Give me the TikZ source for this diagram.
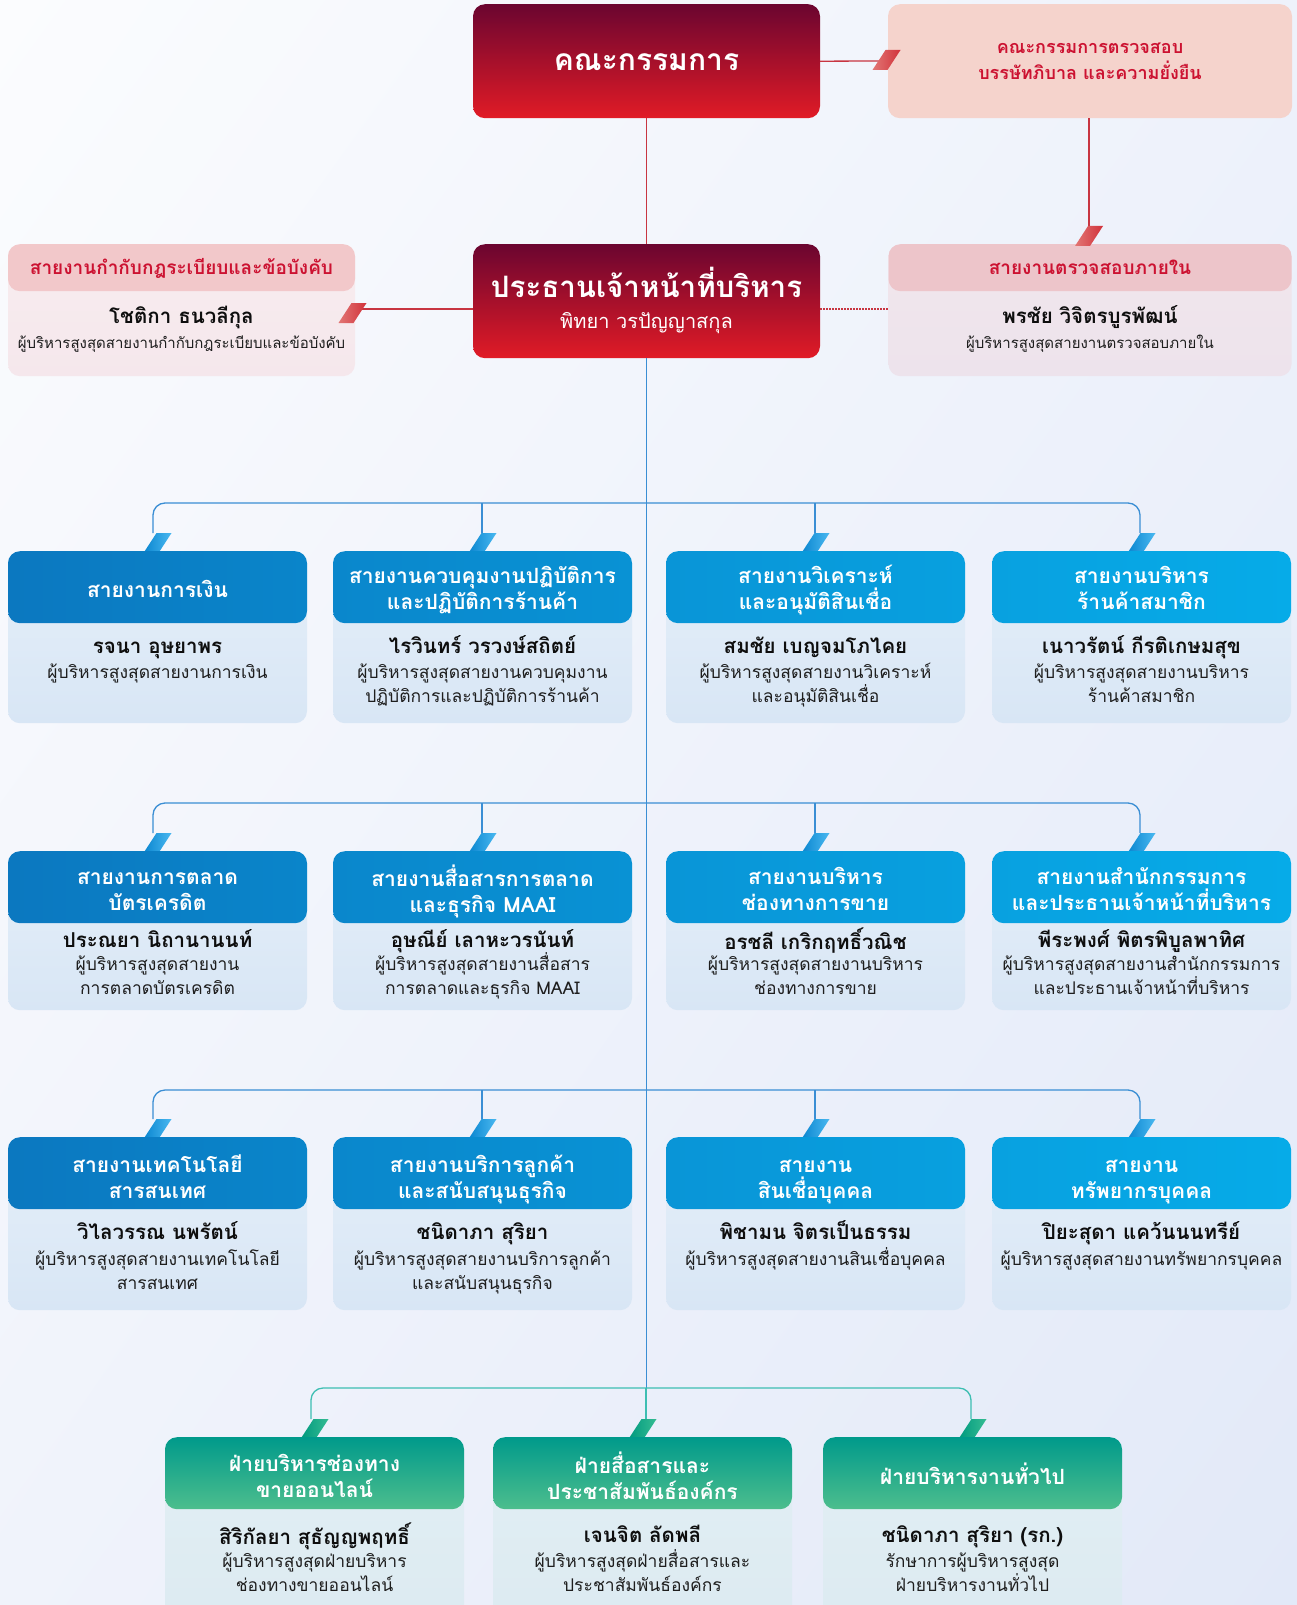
\documentclass[tikz,border=0pt]{standalone}
\usepackage{fontspec}
\setmainfont[Script=Thai]{Loma}
\usetikzlibrary{calc,shadings}
\definecolor{bgTL}{HTML}{FBFCFE}
\definecolor{bgTR}{HTML}{EEF2FB}
\definecolor{bgBL}{HTML}{F0F3FB}
\definecolor{bgBR}{HTML}{E2E9F8}
\definecolor{redT}{HTML}{6B0530}
\definecolor{redB}{HTML}{E11B26}
\definecolor{redTxt}{HTML}{CC1231}
\definecolor{commF}{HTML}{F5D3CC}
\definecolor{compH}{HTML}{F2C8CA}
\definecolor{compT}{HTML}{F8EDEF}
\definecolor{compB}{HTML}{F5E7EC}
\definecolor{audH}{HTML}{EDC5CA}
\definecolor{audT}{HTML}{F1E6EC}
\definecolor{audB}{HTML}{EDE3EC}
\definecolor{redLn}{HTML}{C83541}
\definecolor{blueLn}{HTML}{3A8ED4}
\definecolor{tealLn}{HTML}{3DBEB2}
\definecolor{bodyT}{HTML}{E5EFF9}
\definecolor{bodyB}{HTML}{D8E6F5}
\definecolor{gbodyT}{HTML}{E2EFF3}
\definecolor{gbodyB}{HTML}{DCEAF2}
\definecolor{cAL}{HTML}{0B78C0}
\definecolor{cAR}{HTML}{0A85CA}
\definecolor{cBL}{HTML}{0A87CC}
\definecolor{cBR}{HTML}{0992D4}
\definecolor{cCL}{HTML}{0995D7}
\definecolor{cCR}{HTML}{08A0DF}
\definecolor{cDL}{HTML}{08A1E0}
\definecolor{cDR}{HTML}{06ABE8}
\definecolor{grT}{HTML}{009A8B}
\definecolor{grM}{HTML}{00AC8F}
\definecolor{grB}{HTML}{4DBE8D}
\definecolor{tabBL}{HTML}{0A86D0}
\definecolor{tabBR}{HTML}{4AB8F0}
\definecolor{tabGL}{HTML}{00997F}
\definecolor{tabGR}{HTML}{35BC92}
\definecolor{tabRL}{HTML}{E27674}
\definecolor{tabRR}{HTML}{D1323B}
\definecolor{nameC}{HTML}{0E0E0E}
\definecolor{titleC}{HTML}{1E1E1E}
\newcommand{\myst}[1]{\rule{0pt}{#1pt}}
\newcommand{\tabp}[2]{(#1-14,#2) -- (#1+1,#2) -- (#1+14,#2-20) -- (#1-1,#2-20) -- cycle}
\begin{document}
\begin{tikzpicture}[x=1pt,y=-1pt,
  redbox/.style={anchor=north, rounded corners=12pt, minimum width=347pt, minimum height=114pt, inner sep=0pt, top color=redT, bottom color=redB, draw=none},
  bodybox/.style={anchor=north, rounded corners=12pt, minimum width=299pt, inner sep=0pt, top color=bodyT, bottom color=bodyB, draw=none},
  gbodybox/.style={anchor=north, rounded corners=12pt, minimum width=299pt, inner sep=0pt, top color=gbodyT, bottom color=gbodyB, draw=none},
  hdrbox/.style={anchor=north, rounded corners=12pt, minimum width=299pt, minimum height=72pt, inner sep=0pt, draw=none},
  ghdrbox/.style={hdrbox, top color=grT, middle color=grM, bottom color=grB},
  hdrtxt/.style={anchor=north, inner sep=0pt, align=center, text=white, font=\fontsize{21}{26}\selectfont\bfseries},
  nametxt/.style={anchor=north, inner sep=0pt, align=center, text=nameC, font=\fontsize{20.5}{26}\selectfont\bfseries},
  titletxt/.style={anchor=north, inner sep=0pt, align=center, text=titleC, font=\fontsize{17.5}{24}\selectfont},
  smalltitle/.style={anchor=north, inner sep=0pt, align=center, text=titleC, font=\fontsize{15}{22}\selectfont},
  redhdr/.style={anchor=north, inner sep=0pt, align=center, text=redTxt, font=\fontsize{18}{26}\selectfont\bfseries},
  redline/.style={draw=redLn, line width=1.3pt},
  reddot/.style={draw=redLn, line width=1.3pt, dash pattern=on 1.5pt off 1.5pt},
  blueline/.style={draw=blueLn, line width=1.3pt},
  tealline/.style={draw=tealLn, line width=1.3pt},
  tabblue/.style={left color=tabBL, right color=tabBR},
  tabgreen/.style={left color=tabGL, right color=tabGR},
  tabred/.style={left color=tabRL, right color=tabRR}
]
\useasboundingbox (0,0) rectangle (1297,1605);
\clip (0,0) rectangle (1297,1605);
\shade[upper left=bgTL, upper right=bgTR, lower left=bgBL, lower right=bgBR] (0,0) rectangle (1297,1605);

% ---------- top boxes ----------
\node[redbox] (board) at (646.5,4) {};
\node[redbox] (ceo) at (646.5,244) {};
\node[anchor=north, rounded corners=12pt, minimum width=404pt, minimum height=114pt, inner sep=0pt, fill=commF] (comm) at (1090,4) {};
\node[anchor=north, rounded corners=12pt, minimum width=347pt, minimum height=132pt, inner sep=0pt, top color=compT, bottom color=compB] (comp) at (181.5,244) {};
\node[anchor=north, rounded corners=12pt, minimum width=347pt, minimum height=47pt, inner sep=0pt, fill=compH] (comph) at (181.5,244) {};
\node[anchor=north, rounded corners=12pt, minimum width=403pt, minimum height=132pt, inner sep=0pt, top color=audT, bottom color=audB] (aud) at (1090,244) {};
\node[anchor=north, rounded corners=12pt, minimum width=403pt, minimum height=47pt, inner sep=0pt, fill=audH] (audh) at (1090,244) {};

% connectors top
\coordinate (ktc) at (879,61);
\coordinate (kta) at (1089,226);
\coordinate (ktl) at (360,309);
\draw[redline] (board.south) -- (ceo.north);
\draw[redline] (board.east) -- (ktc);
\draw[redline] (kta |- comm.south) -- (kta);
\draw[redline] (ktl -| ceo.west) -- (ktl);
\draw[reddot] (ktl -| ceo.east) -- (ktl -| aud.west);
\shade[tabred] \tabp{886.5}{70};
\shade[tabred] \tabp{1089}{246};
\shade[tabred] \tabp{352.5}{323};

% top texts
\node[anchor=north, inner sep=0pt, text=white, font=\fontsize{30}{36}\selectfont\bfseries] (boardt) at (646.5,40.4) {\myst{30}คณะกรรมการ};
\node[anchor=north, inner sep=0pt, text=white, font=\fontsize{29.5}{36}\selectfont\bfseries] (ceot) at (646.5,267) {\myst{30}ประธานเจ้าหน้าที่บริหาร};
\node[anchor=north, inner sep=0pt, text=white, font=\fontsize{20}{26}\selectfont] (ceon) at (646.5,308.6) {\myst{20}พิทยา วรปัญญาสกุล};
\node[redhdr] (commt) at (1090,35) {\myst{18}คณะกรรมการตรวจสอบ\\บรรษัทภิบาล และความยั่งยืน};
\node[redhdr, font=\fontsize{19}{26}\selectfont\bfseries] (compt) at (181.5,255) {\myst{19}สายงานกำกับกฎระเบียบและข้อบังคับ};
\node[nametxt] (compn) at (181.5,303.6) {\myst{20}โชติกา ธนวลีกุล};
\node[smalltitle] (compr) at (181.5,332) {\myst{16}ผู้บริหารสูงสุดสายงานกำกับกฎระเบียบและข้อบังคับ};
\node[redhdr, font=\fontsize{19}{26}\selectfont\bfseries] (audt) at (1090,255) {\myst{19}สายงานตรวจสอบภายใน};
\node[nametxt] (audn) at (1090,303.6) {\myst{20}พรชัย วิจิตรบูรพัฒน์};
\node[smalltitle] (audr) at (1090,332) {\myst{16}ผู้บริหารสูงสุดสายงานตรวจสอบภายใน};

% ---------- buses ----------
\coordinate (bus1) at (646,503);
\coordinate (bus2) at (646,803);
\coordinate (bus3) at (646,1090);
\coordinate (bus4) at (646,1388);
\coordinate (k11) at (153,533);  \coordinate (k12) at (482,533);  \coordinate (k13) at (815,533);  \coordinate (k14) at (1140,533);
\coordinate (k21) at (153,833);  \coordinate (k22) at (482,833);  \coordinate (k23) at (815,833);  \coordinate (k24) at (1140,833);
\coordinate (k31) at (153,1119); \coordinate (k32) at (482,1119); \coordinate (k33) at (815,1119); \coordinate (k34) at (1140,1119);
\coordinate (k41) at (311,1419); \coordinate (k42) at (646,1419); \coordinate (k43) at (971,1419);

\draw[blueline] (ceo.south) -- (ceo.south |- bus4);
\draw[blueline, rounded corners=12pt] (k11) -- (k11 |- bus1) -- (k14 |- bus1) -- (k14);
\draw[blueline] (k12 |- bus1) -- (k12);
\draw[blueline] (k13 |- bus1) -- (k13);
\draw[blueline, rounded corners=12pt] (k21) -- (k21 |- bus2) -- (k24 |- bus2) -- (k24);
\draw[blueline] (k22 |- bus2) -- (k22);
\draw[blueline] (k23 |- bus2) -- (k23);
\draw[blueline, rounded corners=12pt] (k31) -- (k31 |- bus3) -- (k34 |- bus3) -- (k34);
\draw[blueline] (k32 |- bus3) -- (k32);
\draw[blueline] (k33 |- bus3) -- (k33);
\draw[tealline, rounded corners=12pt] (k41) -- (k41 |- bus4) -- (k43 |- bus4) -- (k43);
\draw[tealline] (bus4) -- (k42);

% tabs
\foreach \c in {157.5,482.5,815.5,1141.5}{
  \shade[tabblue] \tabp{\c}{553};
  \shade[tabblue] \tabp{\c}{853};
  \shade[tabblue] \tabp{\c}{1139};
}
\foreach \c in {314.5,642.5,972.5}{
  \shade[tabgreen] \tabp{\c}{1439};
}

% ---------- row 1 ----------
\node[bodybox, minimum height=172pt] (b11) at (157.5,551) {};
\node[hdrbox, left color=cAL, right color=cAR] (h11) at (157.5,551) {};
\node[hdrtxt] (x11) at (157.5,577.6) {\myst{20}สายงานการเงิน};
\node[nametxt] (n11) at (157.5,633.6) {\myst{20}รจนา อุษยาพร};
\node[titletxt] (t11) at (157.5,659.8) {\myst{18}ผู้บริหารสูงสุดสายงานการเงิน};

\node[bodybox, minimum height=172pt] (b12) at (482.5,551) {};
\node[hdrbox, left color=cBL, right color=cBR] (h12) at (482.5,551) {};
\node[hdrtxt] (x12) at (482.5,563.6) {\myst{20}สายงานควบคุมงานปฏิบัติการ\\และปฏิบัติการร้านค้า};
\node[nametxt] (n12) at (482.5,633.6) {\myst{20}ไรวินทร์ วรวงษ์สถิตย์};
\node[titletxt] (t12) at (482.5,659.8) {\myst{18}ผู้บริหารสูงสุดสายงานควบคุมงาน\\ปฏิบัติการและปฏิบัติการร้านค้า};

\node[bodybox, minimum height=172pt] (b13) at (815.5,551) {};
\node[hdrbox, left color=cCL, right color=cCR] (h13) at (815.5,551) {};
\node[hdrtxt] (x13) at (815.5,563.6) {\myst{20}สายงานวิเคราะห์\\และอนุมัติสินเชื่อ};
\node[nametxt] (n13) at (815.5,633.6) {\myst{20}สมชัย เบญจมโภไคย};
\node[titletxt] (t13) at (815.5,659.8) {\myst{18}ผู้บริหารสูงสุดสายงานวิเคราะห์\\และอนุมัติสินเชื่อ};

\node[bodybox, minimum height=172pt] (b14) at (1141.5,551) {};
\node[hdrbox, left color=cDL, right color=cDR] (h14) at (1141.5,551) {};
\node[hdrtxt] (x14) at (1141.5,563.6) {\myst{20}สายงานบริหาร\\ร้านค้าสมาชิก};
\node[nametxt] (n14) at (1141.5,633.6) {\myst{20}เนาวรัตน์ กีรติเกษมสุข};
\node[titletxt] (t14) at (1141.5,659.8) {\myst{18}ผู้บริหารสูงสุดสายงานบริหาร\\ร้านค้าสมาชิก};

% ---------- row 2 ----------
\node[bodybox, minimum height=159pt] (b21) at (157.5,851) {};
\node[hdrbox, left color=cAL, right color=cAR] (h21) at (157.5,851) {};
\node[hdrtxt] (x21) at (157.5,864.6) {\myst{20}สายงานการตลาด\\บัตรเครดิต};
\node[nametxt] (n21) at (157.5,927.6) {\myst{20}ประณยา นิถานานนท์};
\node[titletxt] (t21) at (157.5,951.8) {\myst{18}ผู้บริหารสูงสุดสายงาน\\การตลาดบัตรเครดิต};

\node[bodybox, minimum height=159pt] (b22) at (482.5,851) {};
\node[hdrbox, left color=cBL, right color=cBR] (h22) at (482.5,851) {};
\node[hdrtxt] (x22) at (482.5,864.6) {\myst{20}สายงานสื่อสารการตลาด\\และธุรกิจ MAAI};
\node[nametxt] (n22) at (482.5,927.6) {\myst{20}อุษณีย์ เลาหะวรนันท์};
\node[titletxt] (t22) at (482.5,951.8) {\myst{18}ผู้บริหารสูงสุดสายงานสื่อสาร\\การตลาดและธุรกิจ MAAI};

\node[bodybox, minimum height=159pt] (b23) at (815.5,851) {};
\node[hdrbox, left color=cCL, right color=cCR] (h23) at (815.5,851) {};
\node[hdrtxt] (x23) at (815.5,864.6) {\myst{20}สายงานบริหาร\\ช่องทางการขาย};
\node[nametxt] (n23) at (815.5,927.6) {\myst{20}อรชลี เกริกฤทธิ์วณิช};
\node[titletxt] (t23) at (815.5,951.8) {\myst{18}ผู้บริหารสูงสุดสายงานบริหาร\\ช่องทางการขาย};

\node[bodybox, minimum height=159pt] (b24) at (1141.5,851) {};
\node[hdrbox, left color=cDL, right color=cDR] (h24) at (1141.5,851) {};
\node[hdrtxt] (x24) at (1141.5,864.6) {\myst{20}สายงานสำนักกรรมการ\\และประธานเจ้าหน้าที่บริหาร};
\node[nametxt] (n24) at (1141.5,927.6) {\myst{20}พีระพงศ์ พิตรพิบูลพาทิศ};
\node[titletxt] (t24) at (1141.5,951.8) {\myst{18}ผู้บริหารสูงสุดสายงานสำนักกรรมการ\\และประธานเจ้าหน้าที่บริหาร};

% ---------- row 3 ----------
\node[bodybox, minimum height=173pt] (b31) at (157.5,1137) {};
\node[hdrbox, left color=cAL, right color=cAR] (h31) at (157.5,1137) {};
\node[hdrtxt] (x31) at (157.5,1152.6) {\myst{20}สายงานเทคโนโลยี\\สารสนเทศ};
\node[nametxt] (n31) at (157.5,1219.6) {\myst{20}วิไลวรรณ นพรัตน์};
\node[titletxt] (t31) at (157.5,1246.8) {\myst{18}ผู้บริหารสูงสุดสายงานเทคโนโลยี\\สารสนเทศ};

\node[bodybox, minimum height=173pt] (b32) at (482.5,1137) {};
\node[hdrbox, left color=cBL, right color=cBR] (h32) at (482.5,1137) {};
\node[hdrtxt] (x32) at (482.5,1152.6) {\myst{20}สายงานบริการลูกค้า\\และสนับสนุนธุรกิจ};
\node[nametxt] (n32) at (482.5,1219.6) {\myst{20}ชนิดาภา สุริยา};
\node[titletxt] (t32) at (482.5,1246.8) {\myst{18}ผู้บริหารสูงสุดสายงานบริการลูกค้า\\และสนับสนุนธุรกิจ};

\node[bodybox, minimum height=173pt] (b33) at (815.5,1137) {};
\node[hdrbox, left color=cCL, right color=cCR] (h33) at (815.5,1137) {};
\node[hdrtxt] (x33) at (815.5,1152.6) {\myst{20}สายงาน\\สินเชื่อบุคคล};
\node[nametxt] (n33) at (815.5,1219.6) {\myst{20}พิชามน จิตรเป็นธรรม};
\node[titletxt] (t33) at (815.5,1246.8) {\myst{18}ผู้บริหารสูงสุดสายงานสินเชื่อบุคคล};

\node[bodybox, minimum height=173pt] (b34) at (1141.5,1137) {};
\node[hdrbox, left color=cDL, right color=cDR] (h34) at (1141.5,1137) {};
\node[hdrtxt] (x34) at (1141.5,1152.6) {\myst{20}สายงาน\\ทรัพยากรบุคคล};
\node[nametxt] (n34) at (1141.5,1219.6) {\myst{20}ปิยะสุดา แคว้นนนทรีย์};
\node[titletxt] (t34) at (1141.5,1246.8) {\myst{18}ผู้บริหารสูงสุดสายงานทรัพยากรบุคคล};

% ---------- row 4 ----------
\node[gbodybox, minimum height=200pt] (b41) at (314.5,1437) {};
\node[ghdrbox] (h41) at (314.5,1437) {};
\node[hdrtxt] (x41) at (314.5,1451.6) {\myst{20}ฝ่ายบริหารช่องทาง\\ขายออนไลน์};
\node[nametxt] (n41) at (314.5,1522.6) {\myst{20}สิริกัลยา สุธัญญพฤทธิ์};
\node[titletxt] (t41) at (314.5,1548.8) {\myst{18}ผู้บริหารสูงสุดฝ่ายบริหาร\\ช่องทางขายออนไลน์};

\node[gbodybox, minimum height=200pt] (b42) at (642.5,1437) {};
\node[ghdrbox] (h42) at (642.5,1437) {};
\node[hdrtxt] (x42) at (642.5,1451.6) {\myst{20}ฝ่ายสื่อสารและ\\ประชาสัมพันธ์องค์กร};
\node[nametxt] (n42) at (642.5,1522.6) {\myst{20}เจนจิต ลัดพลี};
\node[titletxt] (t42) at (642.5,1548.8) {\myst{18}ผู้บริหารสูงสุดฝ่ายสื่อสารและ\\ประชาสัมพันธ์องค์กร};

\node[gbodybox, minimum height=200pt] (b43) at (972.5,1437) {};
\node[ghdrbox] (h43) at (972.5,1437) {};
\node[hdrtxt] (x43) at (972.5,1462.6) {\myst{20}ฝ่ายบริหารงานทั่วไป};
\node[nametxt] (n43) at (972.5,1522.6) {\myst{20}ชนิดาภา สุริยา (รก.)};
\node[titletxt] (t43) at (972.5,1548.8) {\myst{18}รักษาการผู้บริหารสูงสุด\\ฝ่ายบริหารงานทั่วไป};
\end{tikzpicture}
\end{document}
